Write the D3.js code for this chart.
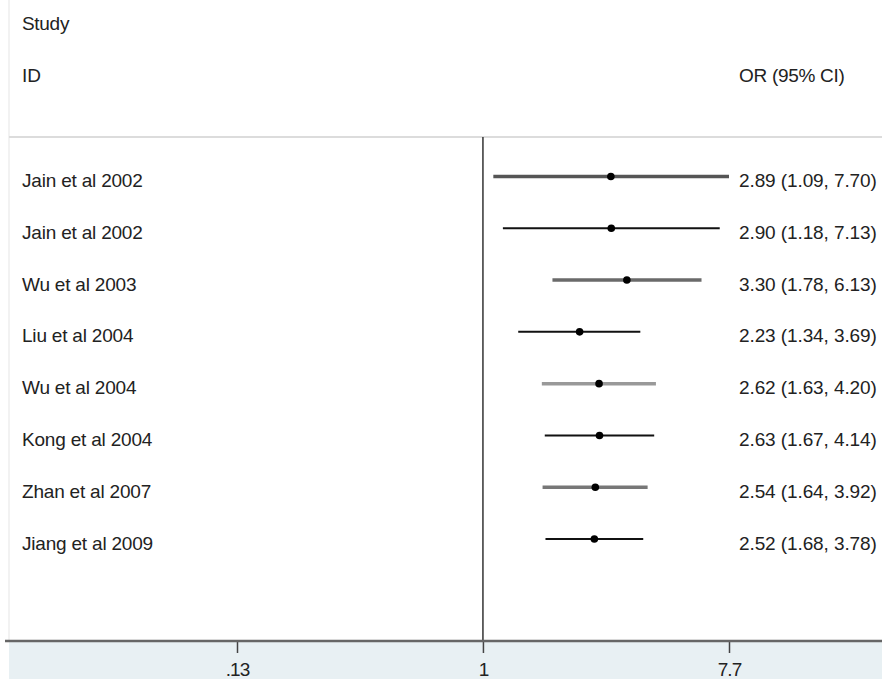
<!DOCTYPE html>
<html>
<head>
<meta charset="utf-8">
<script src="https://cdn.jsdelivr.net/npm/d3@7"></script>
<style>
  html, body { margin: 0; padding: 0; background: #fff; }
  svg { display: block; }
  text { font-family: "Liberation Sans", Arial, sans-serif; fill: #222; }
</style>
</head>
<body>
<svg id="chart" width="882" height="679"></svg>
<script>
// ---- data ----
const studies = ["Jain et al 2002", "Jain et al 2002", "Wu et al 2003", "Liu et al 2004",
                 "Wu et al 2004", "Kong et al 2004", "Zhan et al 2007", "Jiang et al 2009"];
const orValues = [2.89, 2.90, 3.30, 2.23, 2.62, 2.63, 2.54, 2.52];
const ciLower  = [1.09, 1.18, 1.78, 1.34, 1.63, 1.67, 1.64, 1.68];
const ciUpper  = [7.70, 7.13, 6.13, 3.69, 4.20, 4.14, 3.92, 3.78];
const tickValues = [0.13, 1, 7.7];
const tickLabels = [".13", "1", "7.7"];
const headerLeft = ["Study", "ID"];
const headerRight = "OR (95% CI)";

// ---- styles ----
const lineColors = ["#555", "#111", "#6a6a6a", "#111", "#999", "#111", "#777", "#111"];
const lineWidths = [3.5, 2, 3.5, 2, 3.5, 2, 3.5, 2];

const svg = d3.select("#chart");
const W = 882, H = 679;
const axisY = 641, headerLineY = 137;

const x = d3.scaleLog().domain([0.13, 7.7]).range([237, 729]);
const y = d3.scaleLinear().domain([0, studies.length - 1]).range([176.5, 539]);

// bottom shaded band
svg.append("rect").attr("x", 9).attr("y", axisY).attr("width", W - 9).attr("height", H - axisY)
  .attr("fill", "#e8f0f3");

// faint left border
svg.append("line").attr("x1", 9).attr("x2", 9).attr("y1", 0).attr("y2", axisY)
  .attr("stroke", "#eeeeee").attr("stroke-width", 1.5);

// header separator
svg.append("line").attr("x1", 9).attr("x2", W).attr("y1", headerLineY).attr("y2", headerLineY)
  .attr("stroke", "#dcdcdc").attr("stroke-width", 2);

// headers
svg.append("text").attr("x", 22).attr("y", 30).attr("font-size", 19).attr("letter-spacing", "-0.3").text(headerLeft[0]);
svg.append("text").attr("x", 22).attr("y", 82).attr("font-size", 19).text(headerLeft[1]);
svg.append("text").attr("x", 739).attr("y", 82).attr("font-size", 19).attr("letter-spacing", "-0.3").text(headerRight);

// null line at OR = 1
svg.append("line").attr("x1", x(1)).attr("x2", x(1)).attr("y1", headerLineY).attr("y2", axisY)
  .attr("stroke", "#333").attr("stroke-width", 1.5);

// axis
const axis = d3.axisBottom(x).tickValues(tickValues)
  .tickFormat((d, i) => tickLabels[i]).tickSize(12).tickSizeOuter(0);
const gAxis = svg.append("g").attr("transform", `translate(0,${axisY})`).call(axis);
gAxis.select(".domain").remove();
gAxis.selectAll(".tick line").attr("stroke", "#444").attr("stroke-width", 1.5);
gAxis.selectAll(".tick text")
  .attr("y", 35).attr("dy", 0)
  .style("font-family", '"Liberation Sans Narrow", "Arial Narrow", "Liberation Sans", sans-serif')
  .style("font-size", "19px").attr("fill", "#222")
  .attr("letter-spacing", "-1");
svg.append("line").attr("x1", 5).attr("x2", W).attr("y1", axisY).attr("y2", axisY)
  .attr("stroke", "#666").attr("stroke-width", 2.5);

// rows
const rows = svg.append("g").selectAll("g").data(studies).join("g");
rows.append("line")
  .attr("x1", (d, i) => x(ciLower[i])).attr("x2", (d, i) => x(ciUpper[i]))
  .attr("y1", (d, i) => y(i)).attr("y2", (d, i) => y(i))
  .attr("stroke", (d, i) => lineColors[i]).attr("stroke-width", (d, i) => lineWidths[i]);
rows.append("circle")
  .attr("cx", (d, i) => x(orValues[i])).attr("cy", (d, i) => y(i)).attr("r", 3.8)
  .attr("fill", "#000");
rows.append("text")
  .attr("x", 22).attr("y", (d, i) => y(i) + 10.5).attr("font-size", 19)
  .attr("letter-spacing", "-0.2")
  .text(d => d);
rows.append("text")
  .attr("x", 739).attr("y", (d, i) => y(i) + 10.5).attr("font-size", 19)
  .attr("letter-spacing", "-0.1")
  .text((d, i) => `${orValues[i].toFixed(2)} (${ciLower[i].toFixed(2)}, ${ciUpper[i].toFixed(2)})`);
</script>
</body>
</html>
